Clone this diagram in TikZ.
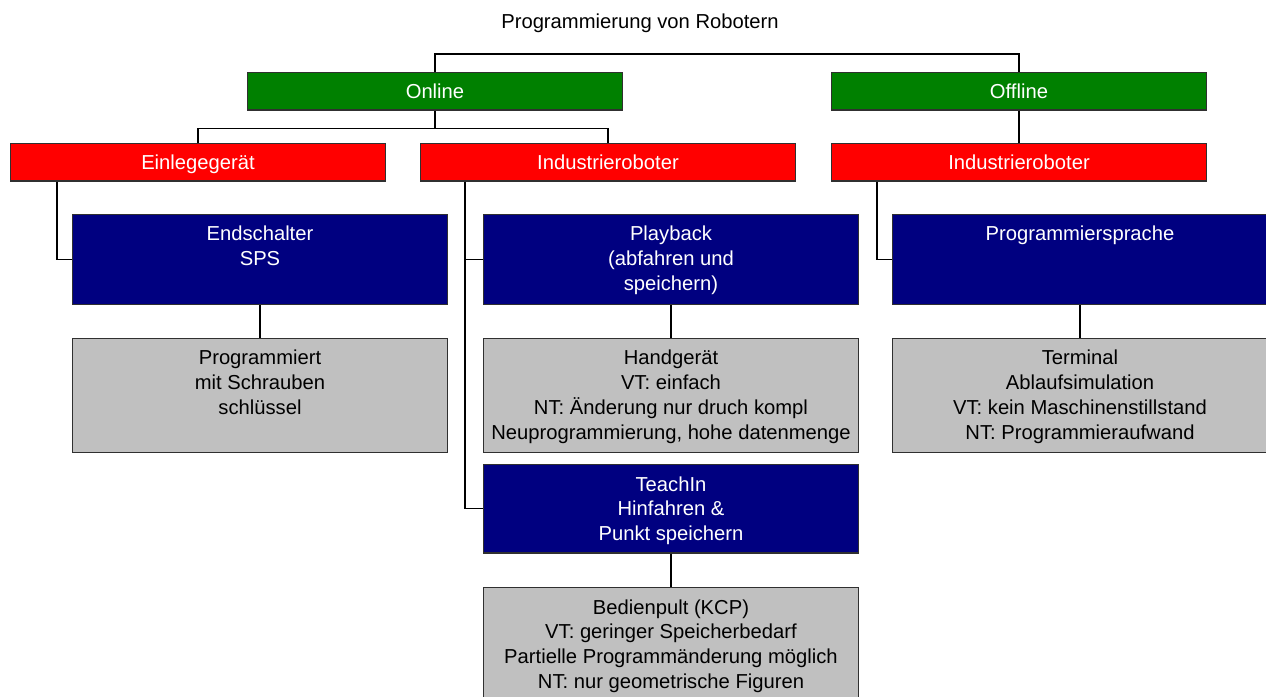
\documentclass[tikz,border=0pt]{standalone}
\usepackage{fontspec}
\setmainfont{Liberation Sans}
\usetikzlibrary{calc}
\definecolor{cgreen}{HTML}{008000}
\definecolor{cred}{HTML}{FF0000}
\definecolor{cnavy}{HTML}{000080}
\definecolor{cgray}{HTML}{C0C0C0}
\definecolor{cborder}{HTML}{303030}
\tikzset{
  boxbase/.style={draw=cborder, line width=0.6pt, rectangle, anchor=north west, minimum width=7.5cm, inner sep=0pt, font=\fontsize{11.5}{14.2}\selectfont},
  hdr/.style={boxbase, minimum height=0.75cm, text=white, text height=9.4pt, text depth=1.3pt},
  bluebox/.style={boxbase, fill=cnavy},
  graybox/.style={boxbase, fill=cgray},
  txt/.style={anchor=north, inner sep=0pt, align=center, font=\fontsize{11.5}{14.2}\selectfont},
  conn/.style={draw=black, line width=0.6pt}
}
\begin{document}
\begin{tikzpicture}[x=0.02cm, y=-0.02cm]
\useasboundingbox (0,0) rectangle (1266,696);
\fill[white] (0,0) rectangle (1266,696);
% title
\node[font=\fontsize{11.5}{14.2}\selectfont, inner sep=0pt] (title) at (640,23) {Programmierung von Robotern};
% level 1
\node[hdr, fill=cgreen] (online) at (247,72) {Online};
\node[hdr, fill=cgreen] (offline) at (831,72) {Offline};
% level 2
\node[hdr, fill=cred] (einl) at (10,143) {Einlegegerät};
\node[hdr, fill=cred] (ind1) at (420,143) {Industrieroboter};
\node[hdr, fill=cred] (ind2) at (831,143) {Industrieroboter};
% blue boxes
\node[bluebox, minimum height=1.8cm] (endsch) at (72,214) {};
\node[txt, text=white] (endschT) at ($(endsch.north)+(0,12)$) {Endschalter\\SPS};
\node[bluebox, minimum height=1.8cm] (play) at (483,214) {};
\node[txt, text=white] (playT) at ($(play.north)+(0,12)$) {Playback\\(abfahren und\\speichern)};
\node[bluebox, minimum height=1.8cm] (progspr) at (892,214) {};
\node[txt, text=white] (progsprT) at ($(progspr.north)+(0,12)$) {Programmiersprache};
\node[bluebox, minimum height=1.77cm] (teach) at (483,464) {};
\node[txt, text=white] (teachT) at ($(teach.north)+(0,12)$) {TeachIn\\Hinfahren \&\\Punkt speichern};
% gray boxes
\node[graybox, minimum height=2.28cm] (progr) at (72,338) {};
\node[txt] (progrT) at ($(progr.north)+(0,12)$) {Programmiert\\mit Schrauben\\schlüssel};
\node[graybox, minimum height=2.28cm] (hand) at (483,338) {};
\node[txt] (handT) at ($(hand.north)+(0,12)$) {Handgerät\\VT: einfach\\NT: Änderung nur druch kompl\\Neuprogrammierung, hohe datenmenge};
\node[graybox, minimum height=2.28cm] (term) at (892,338) {};
\node[txt] (termT) at ($(term.north)+(0,12)$) {Terminal\\Ablaufsimulation\\VT: kein Maschinenstillstand\\NT: Programmieraufwand};
\node[graybox, minimum height=2.4cm] (bed) at (483,587) {};
\node[txt] (bedT) at ($(bed.north)+(0,12)$) {Bedienpult (KCP)\\VT: geringer Speicherbedarf\\Partielle Programmänderung möglich\\NT: nur geometrische Figuren};
% connectors
\draw[conn] (online.north) -- ++(0,-18) coordinate (bar0) -| (offline.north);
\draw[conn] (online.south) -- ++(0,18) coordinate (bar1);
\draw[conn] (einl.north) |- (bar1) -| (ind1.north);
\draw[conn] (offline.south) -- (ind2.north);
\draw[conn] ($(einl.south west)+(47,0)$) |- (endsch.west);
\draw[conn] ($(ind1.south west)+(45,0)$) |- (play.west);
\draw[conn] ($(ind1.south west)+(45,0)$) |- (teach.west);
\draw[conn] ($(ind2.south west)+(46,0)$) |- (progspr.west);
\draw[conn] (endsch.south) -- (progr.north);
\draw[conn] (play.south) -- (hand.north);
\draw[conn] (progspr.south) -- (term.north);
\draw[conn] (teach.south) -- (bed.north);
\end{tikzpicture}
\end{document}
